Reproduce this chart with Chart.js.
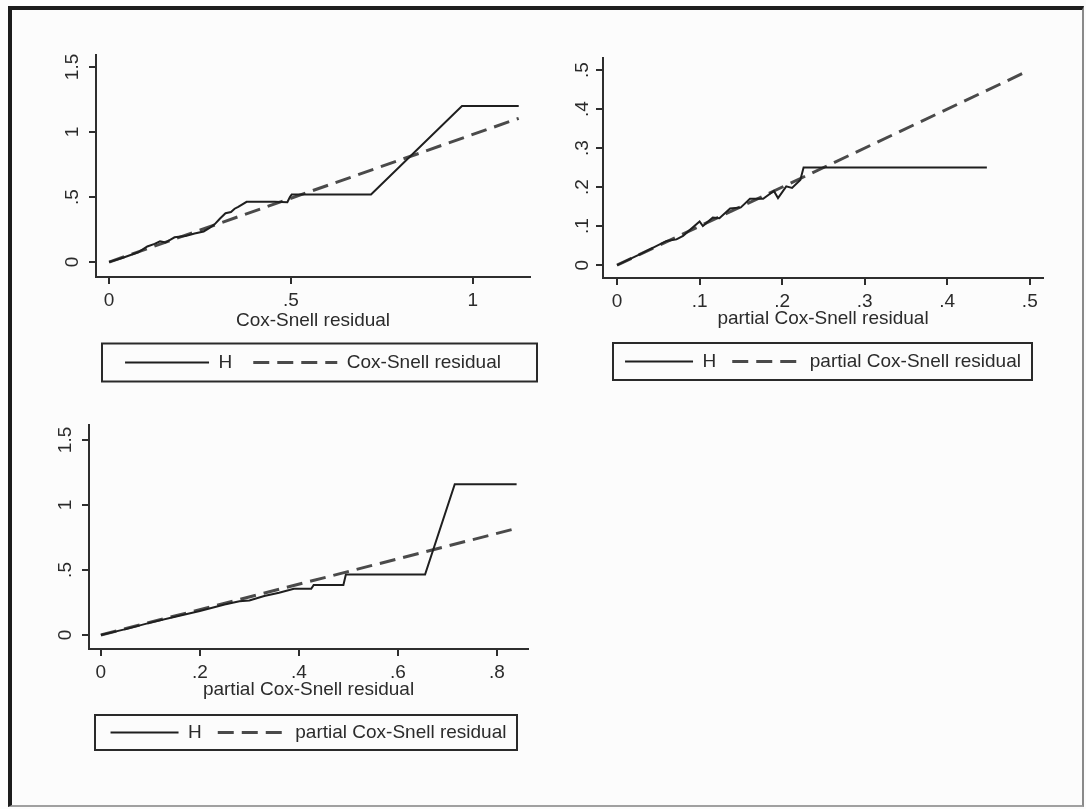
<!DOCTYPE html>
<html>
<head>
<meta charset="utf-8">
<title>Cox-Snell residual diagnostics</title>
<script src="https://cdn.jsdelivr.net/npm/chart.js@4.4.1/dist/chart.umd.min.js"></script>
<style>
  html, body { margin: 0; padding: 0; background: #fcfcfc; }
  #page { position: relative; width: 1086px; height: 809px; overflow: hidden; background: #fcfcfc; }
  #frame {
    position: absolute; left: 8px; top: 6px; width: 1070px; height: 795px;
    border-top: 4px solid #1c1c1c; border-left: 4px solid #1c1c1c;
    border-right: 2px solid #8a8a8a; border-bottom: 2px solid #a0a0a0;
  }
  canvas { position: absolute; }
</style>
</head>
<body>
<div id="page">
  <div id="frame"></div>
  <canvas id="c1" width="505" height="355" style="left:40px;top:35px"></canvas>
  <canvas id="c2" width="510" height="351" style="left:553px;top:38px"></canvas>
  <canvas id="c3" width="504" height="355" style="left:39px;top:405px"></canvas>
</div>
<script>
// ---- Panel 1: cumulative hazard H vs Cox-Snell residual ----
const p1HX = [0, 0.04, 0.08, 0.105, 0.125, 0.14, 0.155, 0.18, 0.21, 0.235, 0.26, 0.275, 0.29, 0.305, 0.32, 0.335, 0.345, 0.355, 0.378, 0.455, 0.49, 0.497, 0.502, 0.72, 0.97, 1.126];
const p1HY = [0, 0.035, 0.075, 0.12, 0.14, 0.16, 0.15, 0.19, 0.2, 0.22, 0.235, 0.26, 0.29, 0.335, 0.375, 0.385, 0.41, 0.425, 0.463, 0.463, 0.46, 0.5, 0.52, 0.52, 1.2, 1.2];
const p1RefX = [0, 1.126];
const p1RefY = [0, 1.105];
const p1XTicks = [0, 0.5, 1];
const p1XTickLabels = ['0', '.5', '1'];
const p1YTicks = [0, 0.5, 1, 1.5];
const p1YTickLabels = ['0', '.5', '1', '1.5'];

// ---- Panel 2: H vs partial Cox-Snell residual ----
const p2HX = [0, 0.03, 0.06, 0.072, 0.08, 0.1, 0.104, 0.116, 0.124, 0.137, 0.15, 0.161, 0.177, 0.19, 0.195, 0.205, 0.212, 0.222, 0.226, 0.448];
const p2HY = [0, 0.03, 0.062, 0.066, 0.075, 0.112, 0.1, 0.122, 0.12, 0.145, 0.148, 0.17, 0.17, 0.19, 0.172, 0.202, 0.198, 0.218, 0.25, 0.25];
const p2RefX = [0, 0.495];
const p2RefY = [0, 0.495];
const p2XTicks = [0, 0.1, 0.2, 0.3, 0.4, 0.5];
const p2XTickLabels = ['0', '.1', '.2', '.3', '.4', '.5'];
const p2YTicks = [0, 0.1, 0.2, 0.3, 0.4, 0.5];
const p2YTickLabels = ['0', '.1', '.2', '.3', '.4', '.5'];

// ---- Panel 3: H vs partial Cox-Snell residual ----
const p3HX = [0, 0.05, 0.1, 0.15, 0.2, 0.25, 0.28, 0.3, 0.33, 0.36, 0.39, 0.425, 0.43, 0.49, 0.495, 0.655, 0.715, 0.84];
const p3HY = [0, 0.045, 0.095, 0.14, 0.185, 0.235, 0.26, 0.265, 0.3, 0.325, 0.355, 0.355, 0.385, 0.385, 0.465, 0.465, 1.16, 1.16];
const p3RefX = [0, 0.84];
const p3RefY = [0, 0.82];
const p3XTicks = [0, 0.2, 0.4, 0.6, 0.8];
const p3XTickLabels = ['0', '.2', '.4', '.6', '.8'];
const p3YTicks = [0, 0.5, 1, 1.5];
const p3YTickLabels = ['0', '.5', '1', '1.5'];

const INK = '#2b2b2b';
Chart.defaults.font.family = '"Liberation Sans", Arial, sans-serif';
Chart.defaults.font.size = 19;
Chart.defaults.color = INK;

const pts = (xs, ys) => xs.map((x, i) => ({ x, y: ys[i] }));

// legend samples take the dataset's own line width and dash pattern
const lineLabels = chart =>
  Chart.defaults.plugins.legend.labels.generateLabels(chart).map((item, i) => {
    const ds = chart.data.datasets[i];
    return Object.assign(item, {
      lineDash: ds.borderDash || [],
      lineWidth: ds.borderWidth,
      strokeStyle: ds.borderColor,
      pointStyle: 'line'
    });
  });

// box drawn round the legend row
const legendFrame = {
  id: 'legendFrame',
  afterDraw(chart, args, opts) {
    const lg = chart.legend;
    const hb = lg && lg.legendHitBoxes;
    if (!hb || !hb.length) return;
    const cy = hb[0].top + hb[0].height / 2;
    const ctx = chart.ctx;
    ctx.save();
    ctx.strokeStyle = '#2a2a2a';
    ctx.lineWidth = 2;
    ctx.strokeRect(lg.left + opts.insetLeft, cy - opts.halfHeight,
      lg.width - opts.insetLeft - opts.insetRight, 2 * opts.halfHeight);
    ctx.restore();
  }
};

function axis(cfg) {
  return {
    type: 'linear',
    min: cfg.min, max: cfg.max,
    afterBuildTicks: s => { s.ticks = cfg.ticks.map(v => ({ value: v })); },
    afterFit: s => { if (cfg.vertical) s.width = cfg.size; else s.height = cfg.size; },
    grid: { display: true, drawOnChartArea: false, drawTicks: true, tickLength: 7, color: '#2e2e2e', lineWidth: 2 },
    border: { display: true, color: '#2e2e2e', width: 2 },
    ticks: Object.assign({
      autoSkip: false,
      padding: cfg.pad,
      color: INK,
      font: { size: 19 },
      callback: (v, i) => cfg.labels[i]
    }, cfg.vertical ? { minRotation: 90, maxRotation: 90, crossAlign: 'center' } : { maxRotation: 0 }),
    title: cfg.title
      ? { display: true, text: cfg.title, color: INK, font: { size: 19 }, padding: { top: 0, bottom: cfg.titleGap } }
      : { display: false }
  };
}

function panel(id, p) {
  return new Chart(document.getElementById(id), {
    type: 'scatter',
    data: {
      datasets: [
        { label: 'H', data: pts(p.hx, p.hy), showLine: true, borderColor: '#1f1f1f', backgroundColor: '#1f1f1f',
          borderWidth: 2, pointRadius: 0, tension: 0, fill: false },
        { label: p.refLabel, data: pts(p.rx, p.ry), showLine: true, borderColor: '#4a4a4a', backgroundColor: '#4a4a4a',
          borderWidth: 3, borderDash: [16, 8], pointRadius: 0, tension: 0, fill: false }
      ]
    },
    options: {
      responsive: false,
      animation: false,
      events: [],
      layout: { padding: { left: 0, top: 20, right: p.padRight, bottom: 8 } },
      scales: {
        x: axis({ min: p.xr[0], max: p.xr[1], ticks: p.xt, labels: p.xl, size: p.xSize, pad: 5,
                  title: p.xTitle, titleGap: p.titleGap }),
        y: axis({ min: p.yr[0], max: p.yr[1], ticks: p.yt, labels: p.yl, size: p.ySize, pad: p.yPad, vertical: true })
      },
      plugins: {
        tooltip: { enabled: false },
        legend: {
          position: 'bottom',
          fullSize: false,
          labels: {
            usePointStyle: true, pointStyle: 'line', pointStyleWidth: p.boxW,
            padding: p.legPad, color: INK, font: { size: 19 },
            generateLabels: lineLabels
          }
        },
        legendFrame: p.frame
      }
    },
    plugins: [legendFrame]
  });
}

panel('c1', {
  hx: p1HX, hy: p1HY, rx: p1RefX, ry: p1RefY, refLabel: 'Cox-Snell residual',
  xr: [-0.036, 1.157], yr: [-0.115, 1.592],
  xt: p1XTicks, xl: p1XTickLabels, yt: p1YTicks, yl: p1YTickLabels,
  xTitle: 'Cox-Snell residual', titleGap: 0, xSize: 55, ySize: 56, yPad: 3, padRight: 15,
  boxW: 84, legPad: 21, frame: { insetLeft: 6, insetRight: -7, halfHeight: 19 }
});

panel('c2', {
  hx: p2HX, hy: p2HY, rx: p2RefX, ry: p2RefY, refLabel: 'partial Cox-Snell residual',
  xr: [-0.017, 0.516], yr: [-0.033, 0.531],
  xt: p2XTicks, xl: p2XTickLabels, yt: p2YTicks, yl: p2YTickLabels,
  xTitle: 'partial Cox-Snell residual', titleGap: 6, xSize: 58, ySize: 50, yPad: 5, padRight: 20,
  boxW: 68, legPad: 16, frame: { insetLeft: 10, insetRight: 11, halfHeight: 18.5 }
});

panel('c3', {
  hx: p3HX, hy: p3HY, rx: p3RefX, ry: p3RefY, refLabel: 'partial Cox-Snell residual',
  xr: [-0.024, 0.863], yr: [-0.108, 1.615],
  xt: p3XTicks, xl: p3XTickLabels, yt: p3YTicks, yl: p3YTickLabels,
  xTitle: 'partial Cox-Snell residual', titleGap: 6, xSize: 58, ySize: 50, yPad: 3, padRight: 15,
  boxW: 68, legPad: 16, frame: { insetLeft: 6, insetRight: 11, halfHeight: 17.5 }
});
</script>
</body>
</html>
